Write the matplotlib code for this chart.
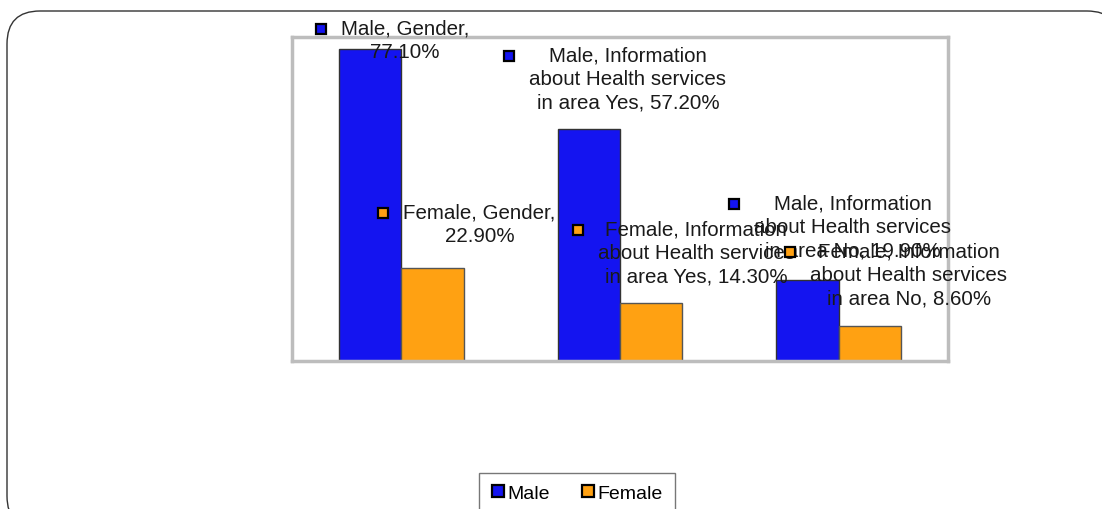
import matplotlib
matplotlib.use('Agg')
import matplotlib.pyplot as plt
import numpy as np
from matplotlib.patches import FancyBboxPatch
from matplotlib.lines import Line2D

plt.rcParams['font.family'] = ['Liberation Sans', 'DejaVu Sans']

# Data
categories = ['Gender', 'Information about Health services in area Yes',
              'Information about Health services in area No']
male = [77.1, 57.2, 19.9]
female = [22.9, 14.3, 8.6]
male_labels = ['Male, Gender,\n77.10%',
               'Male, Information\nabout Health services\nin area Yes, 57.20%',
               'Male, Information\nabout Health services\nin area No, 19.90%']
female_labels = ['Female, Gender,\n22.90%',
                 'Female, Information\nabout Health services\nin area Yes, 14.30%',
                 'Female, Information\nabout Health services\nin area No, 8.60%']

blue = '#1414F0'
orange = '#FFA112'

fig = plt.figure(figsize=(11.02, 5.10), dpi=100)

# rounded outer frame (runs off the right and bottom edges), in pixels
frame = FancyBboxPatch((7, -20), 1113, 518,
                       boxstyle='round,pad=0,rounding_size=33',
                       transform=matplotlib.transforms.IdentityTransform(),
                       facecolor='white', edgecolor='#333333', linewidth=1.0,
                       zorder=-5)
fig.patches.append(frame)

ax = fig.add_axes([292 / 1102, 1 - 362 / 510, 656 / 1102, 324 / 510])
x = np.arange(len(categories))
w = 0.285
ax.bar(x - w / 2, male, w, color=blue, edgecolor='#333333', linewidth=1.0)
ax.bar(x + w / 2, female, w, color=orange, edgecolor='#555555', linewidth=1.0)
ax.set_xlim(-0.5, 2.5)
ax.set_ylim(0, 80)
ax.set_xticks([])
ax.set_yticks([])
for s in ax.spines.values():
    s.set_color('#bdbdbd')
    s.set_linewidth(2.5)

# data label offsets (pixels from bar top)
male_off = [(35, 9), (39, 51), (45, 54)]
female_off = [(47, 45), (45, 51), (39, 52)]

texts = []
for i in range(len(categories)):
    for xi, val, lab, off, col in [(x[i] - w / 2, male[i], male_labels[i], male_off[i], blue),
                                   (x[i] + w / 2, female[i], female_labels[i], female_off[i], orange)]:
        t = ax.annotate(lab, xy=(xi, val), xytext=off, textcoords='offset pixels',
                        ha='center', va='center', fontsize=14.8, color='#1a1a1a',
                        linespacing=1.3, annotation_clip=False, zorder=5)
        texts.append((t, col))

# legend-key squares placed left of each label's first line
fig.canvas.draw()
inv = ax.transAxes.inverted()
for t, col in texts:
    bb = t.get_window_extent()
    px, py = inv.transform((bb.x0 - 20, bb.y1 - 11))
    ax.plot(px, py, marker='s', markersize=7.5, markerfacecolor=col,
            markeredgecolor='black', markeredgewidth=1.6, transform=ax.transAxes,
            clip_on=False, zorder=6)

handles = [Line2D([], [], marker='s', linestyle='none', markersize=8.5,
                  markerfacecolor=blue, markeredgecolor='black', markeredgewidth=1.6),
           Line2D([], [], marker='s', linestyle='none', markersize=8.5,
                  markerfacecolor=orange, markeredgecolor='black', markeredgewidth=1.6)]
leg = fig.legend(handles, ['Male', 'Female'], loc='upper center',
                 bbox_to_anchor=(577 / 1102, 1 - 474 / 510), ncol=2, fontsize=14,
                 frameon=True, fancybox=False, edgecolor='#555555',
                 handlelength=0.7, handletextpad=0.15, columnspacing=1.6,
                 borderpad=0.6, borderaxespad=0)
leg.get_frame().set_linewidth(1.0)

fig.savefig('out.png', dpi=100)
